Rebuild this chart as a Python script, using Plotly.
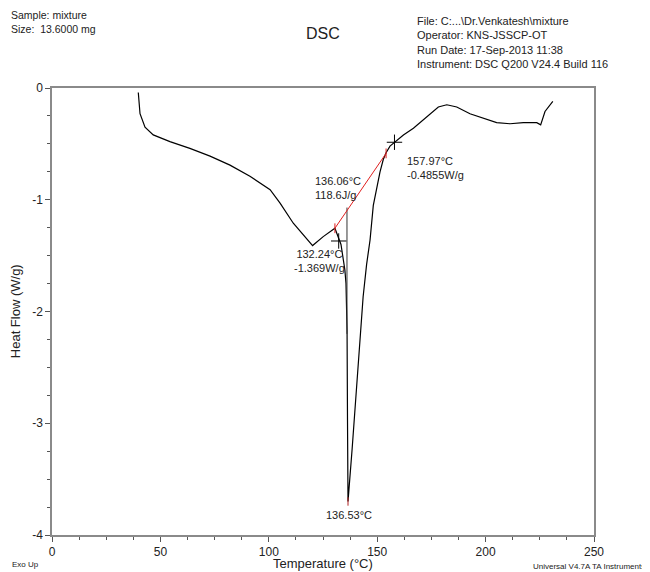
import plotly.graph_objects as go

# ---- data ----
temperature = [39.8, 40.6, 42.9, 46.7, 54.4, 63.6, 72.9, 82.1, 91.3, 100.6, 105.2, 111.3,
               120.2, 125.1, 130.5, 132.1, 133.3, 134.4, 135.1, 135.6, 135.9, 136.1, 136.3,
               136.53, 138.4, 140.2, 141.8, 143.5, 145.1, 146.7, 148.2, 149.8, 151.3, 152.8,
               154.1, 155.9, 158.2, 162.1, 166.7, 172.8, 178.2, 182.1, 186.7, 192.8, 198.9,
               205.1, 211.3, 217.4, 223.6, 225.4, 227.4, 231.0]
heat_flow = [-0.04, -0.23, -0.35, -0.42, -0.48, -0.54, -0.61, -0.69, -0.79, -0.91, -1.03, -1.21,
             -1.41, -1.33, -1.255, -1.33, -1.40, -1.54, -1.63, -1.75, -1.99, -2.17, -2.97,
             -3.70, -3.24, -2.77, -2.34, -1.87, -1.58, -1.36, -1.05, -0.89, -0.75, -0.64,
             -0.58, -0.52, -0.48, -0.42, -0.36, -0.26, -0.17, -0.15, -0.17, -0.23, -0.27,
             -0.31, -0.32, -0.31, -0.31, -0.33, -0.21, -0.12]

baseline_t = [130.5, 154.1]
baseline_hf = [-1.255, -0.585]

cross_t = [132.24, 157.97]
cross_hf = [-1.369, -0.4855]

onset_t = [136.06, 136.06]
onset_hf = [-1.07, -2.2]

peak_t = 136.53
peak_hf = -3.70

x_ticks = [0, 50, 100, 150, 200, 250]
y_ticks = [0, -1, -2, -3, -4]

FONT = "Liberation Sans, Arial, sans-serif"
TXT = "#222222"

fig = go.Figure()

fig.add_trace(go.Scatter(x=temperature, y=heat_flow, mode="lines",
                         line=dict(color="black", width=1.2), hoverinfo="skip"))
fig.add_trace(go.Scatter(x=onset_t, y=onset_hf, mode="lines",
                         line=dict(color="#333333", width=1), hoverinfo="skip"))
fig.add_trace(go.Scatter(x=baseline_t, y=baseline_hf, mode="lines+markers",
                         line=dict(color="#e02020", width=1),
                         marker=dict(symbol="line-ns", size=7,
                                     line=dict(color="#e02020", width=1)),
                         hoverinfo="skip"))
fig.add_trace(go.Scatter(x=cross_t, y=cross_hf, mode="markers",
                         marker=dict(symbol="cross-thin", size=11,
                                     line=dict(color="black", width=1)),
                         hoverinfo="skip"))
fig.add_trace(go.Scatter(x=[peak_t], y=[peak_hf], mode="markers",
                         marker=dict(symbol="line-ns", size=6,
                                     line=dict(color="#b02020", width=1)),
                         hoverinfo="skip"))

axis_common = dict(showline=True, linecolor="#8a8a8a", linewidth=1.5, mirror=True,
                   showgrid=False, zeroline=False, ticks="outside", ticklen=5,
                   tickcolor="#555555", tickfont=dict(family=FONT, size=12, color=TXT))

fig.update_xaxes(range=[0, 250], tickvals=x_ticks, ticktext=[str(v) for v in x_ticks],
                 minor=dict(dtick=12.5, ticks="outside", ticklen=3, tickcolor="#555555"),
                 **axis_common)
fig.update_yaxes(range=[-4, 0], tickvals=y_ticks, ticktext=[str(v) for v in y_ticks],
                 minor=dict(dtick=0.25, ticks="outside", ticklen=3, tickcolor="#555555"),
                 **axis_common)

ann = []
def add(text, x, y, xref="x", yref="y", xanchor="left", yanchor="middle", size=11,
        align="left", angle=0):
    ann.append(dict(text=text, x=x, y=y, xref=xref, yref=yref, xanchor=xanchor,
                    yanchor=yanchor, showarrow=False, align=align, textangle=angle,
                    font=dict(family=FONT, size=size, color=TXT)))

# data annotations
add("136.06°C<br>118.6J/g", 120.4, -0.895)
add("132.24°C<br>-1.369W/g", 123.2, -1.55, xanchor="center", align="center")
add("157.97°C<br>-0.4855W/g", 162.8, -0.716)
add("136.53°C", 137.0, -3.82, xanchor="center", align="center")

# header
add("Sample: mixture<br>Size:\u00a0\u00a013.6000 mg", -0.0793, 1.181, xref="paper", yref="paper",
    yanchor="top", size=10.5)
add("DSC", 0.5, 1.123, xref="paper", yref="paper", xanchor="center", size=16)
add("File: C:...\\Dr.Venkatesh\\mixture<br>Operator: KNS-JSSCP-OT<br>"
    "Run Date: 17-Sep-2013 11:38<br>Instrument: DSC Q200 V24.4 Build 116",
    0.6697, 1.168, xref="paper", yref="paper", yanchor="top", size=11)

# axis titles and footer
add("Heat Flow (W/g)", -0.068, 0.501, xref="paper", yref="paper", xanchor="center",
    size=13, angle=-90)
add("Temperature (°C)", 0.5, -0.063, xref="paper", yref="paper", xanchor="center", size=13)
add("Exo Up", -0.0775, -0.0664, xref="paper", yref="paper", size=8)
add("Universal V4.7A TA Instruments", 0.884, -0.0694, xref="paper", yref="paper", size=8)

# the page adds an 8 px body margin, so the figure is 8 px smaller and margins are offset
fig.update_layout(width=642, height=564, showlegend=False,
                  margin=dict(l=44, r=56, t=80, b=37),
                  paper_bgcolor="white", plot_bgcolor="white",
                  annotations=ann)

fig.write_html("out.html")
